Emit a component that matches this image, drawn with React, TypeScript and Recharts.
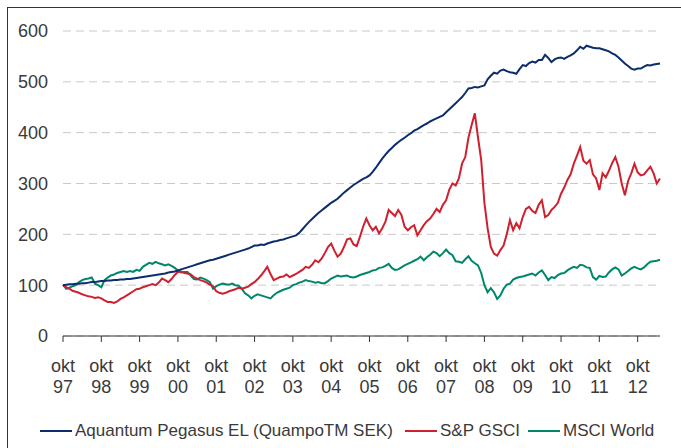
import React from "react"
import { CartesianGrid, Legend, Line, LineChart, XAxis, YAxis } from "recharts"

// monthly index levels, okt 1997 = 100, last point maj 2013
const aquantum = [
  100, 101, 102, 102, 103, 103, 104, 104, 105, 106, 106, 107, 108,
  108, 109, 109, 110, 110, 111, 111, 112, 112, 113, 114, 115,
  116, 117, 118, 119, 120, 121, 122, 123, 125, 126, 127, 129,
  131, 133, 135, 137, 139, 141, 143, 145, 147, 149, 150, 152,
  154, 156, 158, 160, 162, 164, 166, 168, 170, 172, 175, 178,
  178, 180, 179, 182, 184, 186, 187, 189, 190, 192, 194, 196,
  198, 203, 210, 217, 224, 230, 236, 242, 247, 252, 257, 262,
  266, 270, 276, 282, 287, 292, 297, 301, 305, 309, 312, 316,
  323, 331, 340, 349, 357, 364, 370, 376, 381, 386, 390, 395,
  399, 404, 407, 411, 415, 418, 422, 425, 428, 431, 434, 440,
  446, 452, 458, 464, 470, 478, 487, 488, 490, 489, 491, 493,
  505, 512, 518, 516, 522, 524, 521, 519, 518, 516, 525, 533,
  531, 537, 540, 538, 543, 543, 553, 547, 539, 544, 547, 548,
  545, 549, 552, 556, 562, 569, 565, 571, 569, 567, 566, 566,
  564, 562, 560, 556, 553, 548, 542, 536, 531, 526, 524, 526,
  526, 530, 533, 532, 534, 535, 536,
]

const gsci = [
  100, 96, 93, 89, 87, 85, 82, 80, 78, 77, 75, 76, 74,
  70, 67, 67, 65, 68, 73, 76, 80, 84, 88, 92, 93,
  96, 98, 100, 102, 100, 105, 113, 110, 106, 112, 120, 126,
  127, 124, 123, 121, 116, 113, 110, 108, 105, 101, 98, 88,
  85, 83, 85, 88, 90, 92, 95, 93, 95, 97, 102, 106,
  112, 119, 127, 136, 122, 110, 113, 116, 117, 121, 116, 119,
  122, 126, 130, 136, 134, 140, 149, 145, 152, 163, 175, 182,
  168, 156, 162, 175, 190, 192, 180, 177, 195, 215, 231, 218,
  208, 215, 202, 212, 225, 248, 242, 236, 248, 238, 215, 208,
  214, 218, 198, 208, 218, 226, 231, 240, 250, 244, 258, 267,
  288, 300, 296, 310, 339, 352, 390, 415, 438, 390, 346, 262,
  212, 175, 162, 158, 169, 178, 200, 228, 208, 222, 212, 234,
  250, 254, 246, 242, 258, 267, 234, 238, 248, 254, 262, 280,
  292, 307, 318, 339, 355, 372, 345, 339, 346, 318, 310, 287,
  320, 312, 325, 340, 352, 333, 300, 277, 305, 320, 339, 322,
  316, 318, 326, 333, 320, 300, 310,
]

const msciWorld = [
  101, 93, 95, 98, 100, 106, 110, 112, 113, 115, 103, 100, 96,
  110, 115, 119, 121, 124, 126, 128, 126, 128, 126, 130, 128,
  136, 140, 144, 142, 146, 143, 141, 139, 141, 138, 134, 129,
  125, 126, 126, 119, 112, 111, 115, 113, 110, 106, 93, 98,
  101, 103, 102, 101, 103, 100, 99, 93, 84, 80, 74, 79,
  82, 80, 78, 76, 74, 80, 85, 88, 91, 93, 95, 100,
  102, 105, 107, 110, 108, 107, 105, 106, 104, 104, 108, 113,
  116, 119, 117, 118, 119, 116, 115, 117, 120, 122, 124, 126,
  129, 130, 134, 135, 138, 142, 134, 130, 131, 135, 139, 142,
  145, 148, 151, 156, 149, 155, 160, 166, 163, 157, 163, 170,
  163, 159, 147, 146, 144, 151, 157, 148, 143, 139, 124, 100,
  86, 94, 86, 73, 80, 93, 101, 103, 111, 114, 116, 117,
  119, 121, 123, 119, 125, 129, 120, 110, 116, 114, 120, 123,
  124, 129, 133, 136, 134, 140, 139, 135, 134, 116, 111, 118,
  116, 117, 125, 131, 135, 131, 119, 123, 128, 133, 136, 133,
  131, 135, 141, 146, 147, 148, 150,
]

const yearLabels = ["97", "98", "99", "00", "01", "02", "03", "04", "05", "06", "07", "08", "09", "10", "11", "12"]
const yTicks = [0, 100, 200, 300, 400, 500, 600]

const seriesNames = ["Aquantum Pegasus EL (QuampoTM SEK)", "S&P GSCI", "MSCI World"]
const colors = ["#0c2d6b", "#d0202f", "#00876b"]

const data = aquantum.map((v, i) => ({
  m: i,
  aquantum: v,
  gsci: gsci[i],
  msci: msciWorld[i],
}))

const xTicks = yearLabels.map((_, i) => i * 12)

const font = "'Liberation Sans', Arial, sans-serif"
const textColor = "#3a3a3a"

const MonthTick = (props: any) => {
  const { x, y, payload } = props
  const label = yearLabels[Math.round(payload.value / 12)]
  return (
    <text x={x} y={y} textAnchor="middle" fill={textColor} fontSize={18} fontFamily={font}>
      <tspan x={x} dy={28}>okt</tspan>
      <tspan x={x} dy={21}>{label}</tspan>
    </text>
  )
}

const LegendRow = () => (
  <div style={{ position: "relative", height: 32, fontFamily: font, fontSize: 17, color: textColor }}>
    {seriesNames.map((name, i) => {
      const left = [32, 397, 520][i]
      return (
        <div key={name} style={{ position: "absolute", left, top: 5, display: "flex", alignItems: "center", whiteSpace: "nowrap" }}>
          <span style={{ display: "inline-block", width: 32, height: 2, background: colors[i], marginRight: 3 }} />
          <span>{name}</span>
        </div>
      )
    })}
  </div>
)

export default function App() {
  return (
    <div style={{ position: "absolute", left: 0, top: 0, width: 681, height: 448, overflow: "hidden", background: "#fff" }}>
      <div style={{ position: "absolute", left: 7, top: 7, width: 700, height: 470, border: "1px solid #333" }} />
      <div style={{ position: "absolute", left: 0, top: 0 }}>
        <LineChart width={681} height={448} data={data} margin={{ top: 31, right: 21, bottom: 0, left: 8 }}>
          <CartesianGrid vertical={false} stroke="#c8c8c8" strokeDasharray="8 5" />
          <XAxis
            dataKey="m"
            type="number"
            domain={[0, 187]}
            ticks={xTicks}
            interval={0}
            height={80}
            axisLine={{ stroke: "#333" }}
            tickLine={{ stroke: "#333" }}
            tickSize={6}
            tick={<MonthTick />}
          />
          <YAxis
            domain={[0, 600]}
            ticks={yTicks}
            width={55}
            axisLine={false}
            tickLine={false}
            tickSize={0}
            tickMargin={15}
            tick={{ fill: textColor, fontSize: 18, fontFamily: font }}
          />
          <Legend verticalAlign="bottom" height={32} content={<LegendRow />} />
          <Line type="linear" dataKey="msci" stroke={colors[2]} strokeWidth={2} dot={false} isAnimationActive={false} />
          <Line type="linear" dataKey="gsci" stroke={colors[1]} strokeWidth={2} dot={false} isAnimationActive={false} />
          <Line type="linear" dataKey="aquantum" stroke={colors[0]} strokeWidth={2} dot={false} isAnimationActive={false} />
        </LineChart>
      </div>
    </div>
  )
}
